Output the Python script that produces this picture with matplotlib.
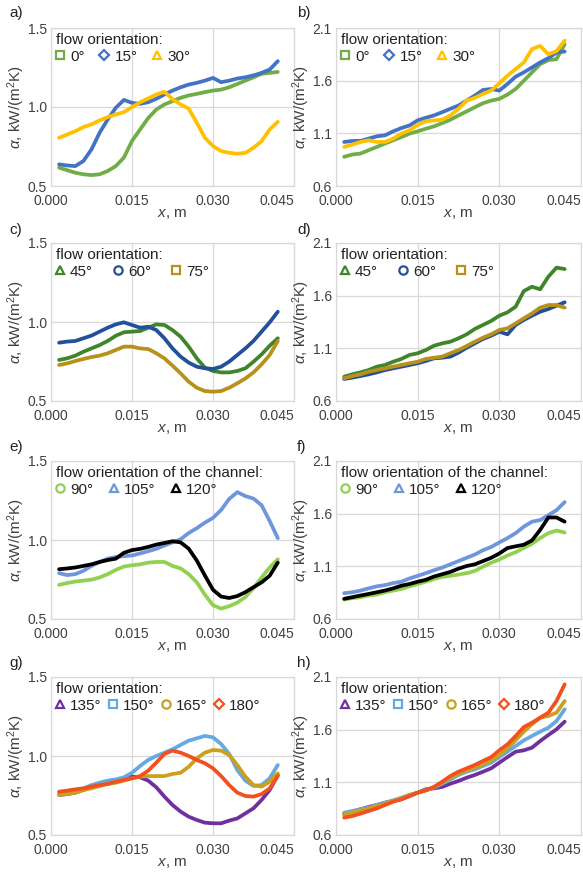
import numpy as np
import matplotlib as mpl
mpl.use('Agg')
import matplotlib.pyplot as plt
from matplotlib.lines import Line2D
from matplotlib.ticker import FormatStrFormatter

plt.rcParams['font.family'] = 'Liberation Sans'
plt.rcParams['mathtext.fontset'] = 'custom'
plt.rcParams['mathtext.rm'] = 'Liberation Sans'
plt.rcParams['mathtext.it'] = 'Liberation Sans:italic'

# position along the channel, mm (all curves read at the same points)
x_mm = [1.5, 3.0, 4.5, 6.0, 7.5, 9.0, 10.5, 12.0, 13.5, 15.0, 16.5, 18.0, 19.5, 21.0,
        22.5, 24.0, 25.5, 27.0, 28.5, 30.0, 31.5, 33.0, 34.5, 36.0, 37.5, 39.0, 40.5, 42.0]

# a) local heat transfer coefficient, kW/(m2K)
a_0 = [0.616, 0.600, 0.584, 0.574, 0.569, 0.574, 0.595, 0.626, 0.680, 0.785, 0.858, 0.930, 0.984, 1.016,
       1.037, 1.058, 1.073, 1.083, 1.094, 1.104, 1.110, 1.125, 1.146, 1.167, 1.188, 1.210, 1.216, 1.222]
a_15 = [0.637, 0.630, 0.626, 0.658, 0.732, 0.837, 0.921, 0.995, 1.045, 1.026, 1.020, 1.030, 1.052, 1.079,
        1.104, 1.125, 1.142, 1.153, 1.167, 1.184, 1.157, 1.167, 1.180, 1.188, 1.200, 1.216, 1.237, 1.290]
a_30 = [0.805, 0.826, 0.847, 0.873, 0.890, 0.915, 0.936, 0.953, 0.967, 0.999, 1.030, 1.054, 1.079, 1.096,
        1.050, 1.016, 0.990, 0.900, 0.805, 0.753, 0.721, 0.710, 0.704, 0.710, 0.742, 0.784, 0.858, 0.906]
# b)
b_0 = [0.877, 0.899, 0.908, 0.940, 0.971, 1.003, 1.034, 1.065, 1.097, 1.119, 1.144, 1.166, 1.197, 1.229,
       1.270, 1.308, 1.348, 1.386, 1.411, 1.427, 1.468, 1.521, 1.600, 1.679, 1.757, 1.795, 1.804, 1.946]
b_15 = [1.018, 1.028, 1.028, 1.050, 1.072, 1.081, 1.119, 1.150, 1.175, 1.223, 1.248, 1.270, 1.301, 1.333,
        1.364, 1.411, 1.459, 1.512, 1.521, 1.506, 1.569, 1.638, 1.679, 1.726, 1.773, 1.814, 1.867, 1.877]
b_30 = [0.971, 0.993, 1.018, 1.034, 1.018, 1.018, 1.050, 1.097, 1.130, 1.180, 1.215, 1.223, 1.229, 1.270,
        1.333, 1.411, 1.437, 1.474, 1.506, 1.575, 1.647, 1.710, 1.773, 1.900, 1.930, 1.850, 1.880, 1.980]
# c)
c_45 = [0.760, 0.770, 0.787, 0.812, 0.833, 0.854, 0.880, 0.913, 0.935, 0.939, 0.943, 0.964, 0.985, 0.981,
        0.949, 0.907, 0.844, 0.770, 0.711, 0.690, 0.681, 0.681, 0.690, 0.707, 0.749, 0.795, 0.850, 0.897]
c_60 = [0.869, 0.876, 0.880, 0.897, 0.914, 0.939, 0.964, 0.985, 0.998, 0.981, 0.964, 0.970, 0.949, 0.897,
        0.833, 0.781, 0.743, 0.717, 0.707, 0.703, 0.717, 0.749, 0.791, 0.833, 0.880, 0.939, 0.998, 1.065]
c_75 = [0.728, 0.738, 0.753, 0.766, 0.778, 0.787, 0.802, 0.823, 0.844, 0.844, 0.833, 0.829, 0.802, 0.770,
        0.724, 0.675, 0.622, 0.584, 0.563, 0.559, 0.563, 0.584, 0.612, 0.643, 0.681, 0.732, 0.791, 0.880]
# d)
d_45 = [0.831, 0.853, 0.872, 0.894, 0.926, 0.942, 0.973, 0.999, 1.037, 1.053, 1.084, 1.125, 1.147, 1.163,
        1.195, 1.233, 1.284, 1.322, 1.360, 1.410, 1.442, 1.496, 1.644, 1.685, 1.660, 1.780, 1.866, 1.853]
d_60 = [0.809, 0.822, 0.837, 0.853, 0.872, 0.894, 0.910, 0.926, 0.942, 0.958, 0.980, 1.005, 1.011, 1.021,
        1.059, 1.106, 1.147, 1.189, 1.220, 1.258, 1.233, 1.322, 1.369, 1.410, 1.448, 1.473, 1.505, 1.537]
d_75 = [0.815, 0.837, 0.853, 0.878, 0.894, 0.910, 0.926, 0.942, 0.958, 0.973, 0.999, 1.011, 1.021, 1.053,
        1.084, 1.122, 1.163, 1.201, 1.233, 1.274, 1.290, 1.337, 1.385, 1.432, 1.486, 1.511, 1.511, 1.486]
# e)
e_90 = [0.716, 0.728, 0.737, 0.743, 0.749, 0.763, 0.784, 0.811, 0.832, 0.840, 0.846, 0.857, 0.861, 0.861,
        0.836, 0.820, 0.784, 0.732, 0.654, 0.587, 0.566, 0.581, 0.604, 0.639, 0.695, 0.763, 0.826, 0.878]
e_105 = [0.790, 0.778, 0.784, 0.805, 0.836, 0.861, 0.882, 0.892, 0.898, 0.902, 0.915, 0.929, 0.944, 0.965,
         0.985, 1.005, 1.044, 1.075, 1.110, 1.140, 1.190, 1.260, 1.303, 1.278, 1.262, 1.220, 1.120, 1.012]
e_120 = [0.815, 0.820, 0.826, 0.836, 0.846, 0.861, 0.873, 0.882, 0.919, 0.936, 0.944, 0.956, 0.971, 0.981,
         0.992, 0.985, 0.945, 0.870, 0.775, 0.685, 0.642, 0.633, 0.645, 0.670, 0.701, 0.732, 0.774, 0.857]
# f)
f_90 = [0.785, 0.798, 0.807, 0.823, 0.832, 0.854, 0.870, 0.885, 0.910, 0.932, 0.954, 0.979, 1.000, 1.010,
        1.022, 1.035, 1.056, 1.097, 1.134, 1.165, 1.203, 1.234, 1.274, 1.315, 1.368, 1.415, 1.440, 1.421]
f_105 = [0.845, 0.854, 0.870, 0.891, 0.910, 0.922, 0.941, 0.954, 0.985, 1.010, 1.035, 1.063, 1.088, 1.119,
         1.150, 1.181, 1.212, 1.253, 1.284, 1.327, 1.368, 1.415, 1.477, 1.524, 1.539, 1.586, 1.633, 1.710]
f_120 = [0.792, 0.807, 0.823, 0.838, 0.854, 0.870, 0.891, 0.916, 0.932, 0.954, 0.972, 1.003, 1.025, 1.047,
         1.078, 1.103, 1.119, 1.150, 1.181, 1.222, 1.274, 1.290, 1.305, 1.346, 1.446, 1.564, 1.564, 1.524]
# g)
g_135 = [0.753, 0.759, 0.768, 0.785, 0.802, 0.816, 0.831, 0.844, 0.859, 0.869, 0.865, 0.844, 0.802, 0.743,
         0.690, 0.648, 0.616, 0.595, 0.578, 0.574, 0.574, 0.591, 0.605, 0.637, 0.669, 0.722, 0.785, 0.880]
g_150 = [0.759, 0.768, 0.781, 0.795, 0.816, 0.831, 0.844, 0.852, 0.865, 0.894, 0.937, 0.975, 1.000, 1.021,
         1.042, 1.070, 1.097, 1.112, 1.127, 1.118, 1.076, 1.013, 0.911, 0.844, 0.810, 0.816, 0.859, 0.943]
g_165 = [0.753, 0.759, 0.768, 0.785, 0.795, 0.810, 0.823, 0.831, 0.844, 0.859, 0.869, 0.873, 0.873, 0.873,
         0.886, 0.894, 0.932, 0.985, 1.021, 1.038, 1.034, 1.006, 0.943, 0.869, 0.816, 0.806, 0.838, 0.890]
g_180 = [0.774, 0.781, 0.789, 0.795, 0.806, 0.816, 0.823, 0.838, 0.848, 0.859, 0.873, 0.907, 0.958, 1.013,
         1.034, 1.021, 1.000, 0.975, 0.954, 0.922, 0.873, 0.816, 0.768, 0.747, 0.743, 0.759, 0.795, 0.873]
# h)
h_135 = [0.796, 0.822, 0.844, 0.866, 0.885, 0.907, 0.923, 0.939, 0.970, 1.002, 1.034, 1.043, 1.056, 1.087,
         1.113, 1.144, 1.170, 1.201, 1.233, 1.287, 1.340, 1.391, 1.404, 1.429, 1.492, 1.549, 1.603, 1.676]
h_150 = [0.812, 0.828, 0.844, 0.859, 0.885, 0.907, 0.929, 0.954, 0.980, 1.002, 1.024, 1.049, 1.087, 1.128,
         1.170, 1.201, 1.223, 1.255, 1.287, 1.340, 1.391, 1.445, 1.499, 1.540, 1.581, 1.619, 1.682, 1.793]
h_165 = [0.796, 0.815, 0.834, 0.853, 0.875, 0.897, 0.923, 0.948, 0.980, 1.002, 1.024, 1.056, 1.097, 1.144,
         1.182, 1.214, 1.239, 1.271, 1.309, 1.359, 1.423, 1.499, 1.581, 1.651, 1.714, 1.730, 1.761, 1.872]
h_180 = [0.765, 0.780, 0.803, 0.828, 0.853, 0.885, 0.916, 0.939, 0.970, 1.002, 1.024, 1.056, 1.106, 1.160,
         1.201, 1.233, 1.265, 1.303, 1.340, 1.404, 1.461, 1.540, 1.625, 1.666, 1.714, 1.761, 1.872, 2.030]

x = np.array(x_mm) / 1000.0

title1 = "flow orientation:"
title2 = "flow orientation of the channel:"

# (panel, column, row, y range, legend title, legend column spacing, series)
panels = [
    ('a)', 0, 0, 'low', title1, 1.0, [('0°', a_0, '#70AD47', 's'), ('15°', a_15, '#4472C4', 'D'), ('30°', a_30, '#FFC000', '^')]),
    ('b)', 1, 0, 'high', title1, 1.0, [('0°', b_0, '#70AD47', 's'), ('15°', b_15, '#4472C4', 'D'), ('30°', b_30, '#FFC000', '^')]),
    ('c)', 0, 1, 'low', title1, 1.35, [('45°', c_45, '#41852A', '^'), ('60°', c_60, '#22509B', 'o'), ('75°', c_75, '#B8901A', 's')]),
    ('d)', 1, 1, 'high', title1, 1.35, [('45°', d_45, '#41852A', '^'), ('60°', d_60, '#22509B', 'o'), ('75°', d_75, '#B8901A', 's')]),
    ('e)', 0, 2, 'low', title2, 1.05, [('90°', e_90, '#92D050', 'o'), ('105°', e_105, '#6F95DB', '^'), ('120°', e_120, '#000000', '^')]),
    ('f)', 1, 2, 'high', title2, 1.05, [('90°', f_90, '#92D050', 'o'), ('105°', f_105, '#6F95DB', '^'), ('120°', f_120, '#000000', '^')]),
    ('g)', 0, 3, 'low', title1, 0.45, [('135°', g_135, '#7030A0', '^'), ('150°', g_150, '#66A8E0', 's'),
                                       ('165°', g_165, '#CCA01E', 'o'), ('180°', g_180, '#F2501E', 'D')]),
    ('h)', 1, 3, 'high', title1, 0.45, [('135°', h_135, '#7030A0', '^'), ('150°', h_150, '#66A8E0', 's'),
                                        ('165°', h_165, '#CCA01E', 'o'), ('180°', h_180, '#F2501E', 'D')]),
]

W, H = 583, 873
fig = plt.figure(figsize=(W / 100, H / 100), dpi=100)

col_left = [51, 336]
col_width = [243, 245]
row_top = [28, 243, 461, 677]
ax_h = 158
letter_y = [13, 230, 447, 663]
letter_x = [9, 297]

grid_c = '#d9d9d9'
text_c = '#404040'

for letter, col, row, rng, title, cspace, series in panels:
    ax = fig.add_axes([col_left[col] / W, 1 - (row_top[row] + ax_h) / H,
                       col_width[col] / W, ax_h / H])
    handles = []
    for lab, y, color, mk in series:
        ax.plot(x, y, color=color, lw=2.7, solid_capstyle='round', solid_joinstyle='round')
        handles.append(Line2D([], [], color=color, marker=mk, linestyle='none',
                              mfc='none', mew=1.6, ms=6 if mk != 'D' else 5))
    ax.set_xlim(0, 0.045)
    ax.set_xticks([0.0, 0.015, 0.030, 0.045])
    ax.xaxis.set_major_formatter(FormatStrFormatter('%.3f'))
    if rng == 'low':
        ax.set_ylim(0.5, 1.5)
        ax.set_yticks([0.5, 1.0, 1.5])
    else:
        ax.set_ylim(0.6, 2.1)
        ax.set_yticks([0.6, 1.1, 1.6, 2.1])
    ax.yaxis.set_major_formatter(FormatStrFormatter('%.1f'))
    ax.grid(True, color=grid_c, lw=0.9)
    ax.set_axisbelow(True)
    for sp in ax.spines.values():
        sp.set_color(grid_c)
        sp.set_linewidth(0.9)
    ax.tick_params(length=0, labelsize=10, colors=text_c)
    ax.tick_params(axis='x', pad=6)
    ax.tick_params(axis='y', pad=3)
    # last x label sits inside the plot edge, as in the original
    ax.get_xticklabels()[-1].set_ha('right')
    ax.set_xlabel(r'$x$, m', fontsize=11, color=text_c, labelpad=-1)
    ax.set_ylabel(r'$\alpha$, kW/(m$^2$K)', fontsize=11, color=text_c)
    ax.yaxis.set_label_coords(-0.142, 0.5)
    ax.yaxis.label.set_va('center')
    leg = ax.legend(handles, [s[0] for s in series], title=title, loc='upper left',
                    bbox_to_anchor=(0.0, 1.0), ncol=len(series), frameon=False,
                    fontsize=11, title_fontsize=11, alignment='left',
                    handlelength=0.6, handletextpad=0.35, columnspacing=cspace,
                    borderpad=0.3, borderaxespad=0.0, labelspacing=0.2)
    leg.get_title().set_color('#222222')
    for t in leg.get_texts():
        t.set_color('#222222')
    fig.text(letter_x[col] / W, 1 - letter_y[row] / H, letter, fontsize=11,
             color='#222222', va='center', ha='left')

fig.savefig('out.png', dpi=100, facecolor='white')
